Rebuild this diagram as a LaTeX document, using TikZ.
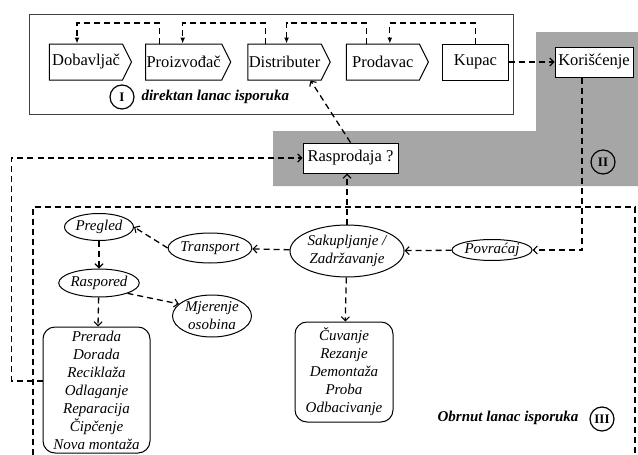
\documentclass[tikz,border=0pt]{standalone}
\usepackage{fontspec}
\setmainfont{Liberation Serif}
\usetikzlibrary{shapes.symbols,shapes.geometric,positioning,arrows.meta}

\begin{document}
\begin{tikzpicture}[x=1pt,y=-1pt,>={Straight Barb[length=4pt,width=8pt,line width=1.1pt]},
  txt/.style={font=\fontsize{16.5}{19}\selectfont},
  sig/.style={txt,draw,line width=1pt,signal,signal to=east,signal pointer angle=127,
    minimum width=82pt,minimum height=36pt,inner sep=1pt,fill=white},
  box/.style={txt,draw,line width=1pt,rectangle,inner sep=0pt,fill=white},
  oval/.style={draw,line width=1pt,ellipse,inner sep=0pt,font=\fontsize{15}{18}\selectfont\itshape,align=center},
  lista/.style={draw,line width=1pt,rounded corners=12pt,inner sep=0pt,align=center,
    font=\fontsize{15}{18}\selectfont\itshape},
  dline/.style={dash pattern=on 6pt off 4pt,line width=1.3pt},
  broj/.style={draw,circle,line width=1.2pt,inner sep=0pt,minimum size=24pt,font=\fontsize{13}{13}\selectfont\bfseries}]
  \useasboundingbox (0,0) rectangle (638,455);
  \fill[white] (0,0) rectangle (638,455);
  % grey band (II)
  \fill[black!35] (273,131) -- (536,131) -- (536,32) -- (638,32) -- (638,186) -- (273,186) -- cycle;
  % box of the direct chain (I)
  \draw[black!75,line width=0.7pt] (29,14) rectangle (513,114);

  % direct chain
  \node[sig] (dob) at (86,62) {Dobavljač};
  \node[sig,right=13pt of dob] (proiz) {Proizvođač};
  \node[sig,right=16pt of proiz] (distr) {Distributer};
  \node[sig,right=15pt of distr] (prod) {Prodavac};
  \node[box,minimum width=66pt,minimum height=36pt,right=13pt of prod] (kup) {Kupac};
  \node[box,minimum width=78pt,minimum height=30pt] (kor) at (594,62) {Korišćenje};
  \node[box,minimum width=95pt,minimum height=30pt] (ras) at (350.5,158) {Rasprodaja ?};
  \node[broj] (c1) at (122,97) {I};
  \node[anchor=west,font=\fontsize{15}{18}\selectfont\bfseries\itshape] (naslov1) at (138,97) {direktan lanac isporuka};
  \node[broj] (c2) at (603,162) {II};

  % feedback lines above the chain
  \foreach \s/\d/\a/\b in {proiz/dob/-24/-9, distr/proiz/-19/-1, prod/distr/-16/2, kup/prod/0/7}
    \draw[dline,-{Latex[length=6pt,width=5pt]}] ([xshift=\a pt]\s.north) -- ([xshift=\a pt]\s.north |- 0,23) -| ([xshift=\b pt]\d.north);

  % reverse chain (III)
  \draw[dline] (33,455) -- (33,207) -- (635,207) -- (635,455);
  \node[oval,minimum width=114pt,minimum height=52pt] (sak) at (347,251) {Sakupljanje /\\Zadržavanje};
  \node[oval,minimum width=80pt,minimum height=21pt] (pov) at (492,250) {Povraćaj};
  \node[oval,minimum width=78pt,minimum height=30pt] (trans) at (210,248) {Transport};
  \node[oval,minimum width=69pt,minimum height=27pt] (preg) at (99,227) {Pregled};
  \node[oval,minimum width=78pt,minimum height=28pt] (rasp) at (99,283) {Raspored};
  \node[oval,minimum width=79pt,minimum height=42pt] (mjer) at (212,316) {Mjerenje\\osobina};
  \node[lista,minimum width=107pt,minimum height=126pt] (prer) at (96.5,390)
    {Prerada\\Dorada\\Reciklaža\\Odlaganje\\Reparacija\\Čipčenje\\Nova montaža};
  \node[lista,minimum width=98pt,minimum height=100pt] (cuv) at (344,372)
    {Čuvanje\\Rezanje\\Demontaža\\Proba\\Odbacivanje};
  \node[anchor=east,font=\fontsize{15}{18}\selectfont\bfseries\itshape] (naslov3) at (582,418) {Obrnut lanac isporuka};
  \node[broj] (c3) at (602,419) {III};

  % connectors
  \draw[dline,->] (kup) -- (kor);
  \draw[dline,->] (ras.north) -- ([xshift=26pt]distr.south);
  \draw[dline,->] ([xshift=-12pt]kor.south) |- (pov.east);
  \draw[dline,->] (pov) -- (sak);
  \draw[dline,->] (sak.north) -- (sak.north |- ras.south);
  \draw[dline,->] (sak) -- (trans);
  \draw[dline,->] (trans.west) -- (preg.east);
  \draw[dline,->] (preg) -- (rasp);
  \draw[dline,->] (rasp.-20) -- (mjer.160);
  \draw[dline,->] (rasp) -- (prer);
  \draw[dline,->] (sak) -- (cuv);
  \draw[dline,->] ([yshift=9pt]prer.west) -- ++(-31,0) |- (ras.west);
\end{tikzpicture}
\end{document}
